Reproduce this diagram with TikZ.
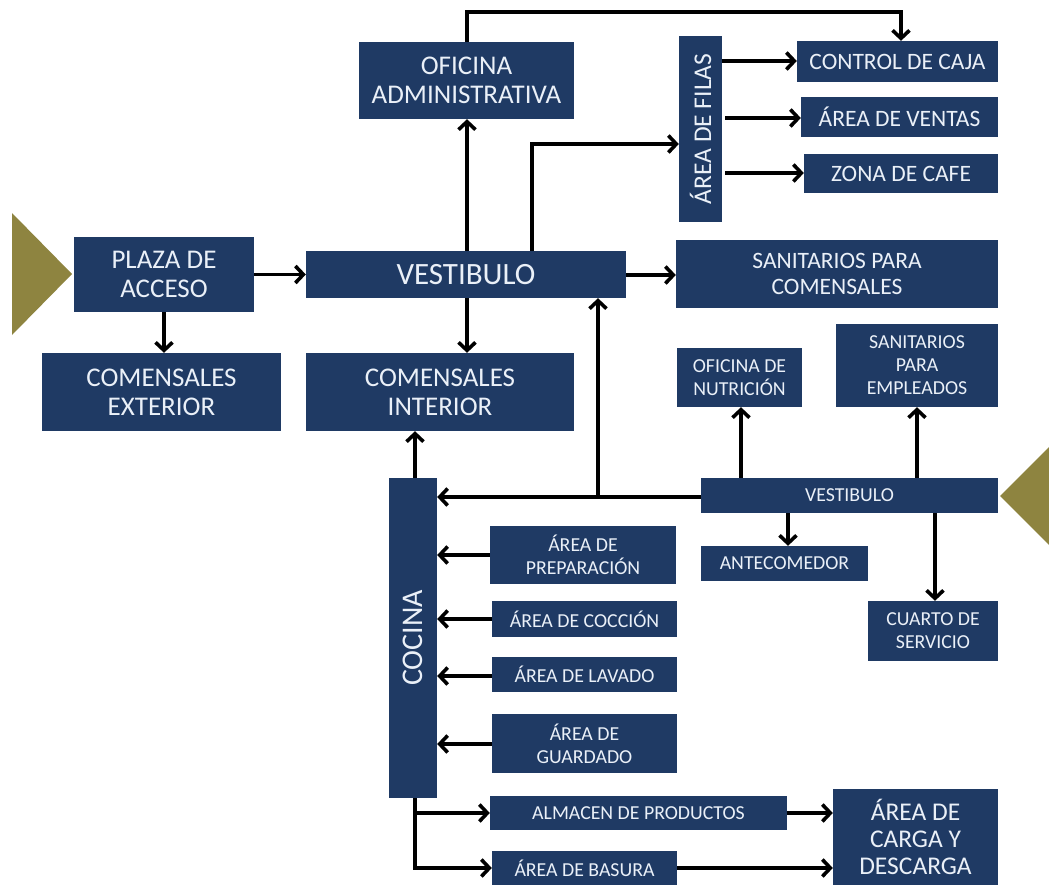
\documentclass[tikz,border=0pt]{standalone}
\usepackage{fontspec}
\setmainfont{Carlito}
\usetikzlibrary{arrows.meta}
\definecolor{navy}{HTML}{1F3A64}
\definecolor{olive}{HTML}{8E8440}
\definecolor{txt}{HTML}{EAF0F8}
\newcommand\bx[7][]{%
  \node[box,#1,minimum width={(#4-#2)*1pt},minimum height={(#5-#3)*1pt}]
    (#6) at ({(#2+#4)/2},{(#3+#5)/2}) {#7};}
\tikzset{
  box/.style={fill=navy,draw=none,text=txt,inner sep=0pt,align=center},
  fbig/.style={font=\fontsize{27}{29}\selectfont},
  fhuge/.style={font=\fontsize{31}{33}\selectfont},
  fmid/.style={font=\fontsize{23.5}{26}\selectfont},
  fsmall/.style={font=\fontsize{19.8}{23}\selectfont},
  vtext/.style={rotate=90,text=txt,inner sep=0pt},
  arr/.style={line width=3.6pt,-{Straight Barb[length=8pt,width=17pt]}},
}
\begin{document}
\begin{tikzpicture}[x=1pt,y=-1pt]
\useasboundingbox (0,0) rectangle (1049,886);
\clip (0,0) rectangle (1049,886);
\fill[white] (0,0) rectangle (1049,886);
% triangles
\fill[olive] (12,213) -- (72,274) -- (12,335) -- cycle;
\fill[olive] (1000,496) -- (1060,436) -- (1060,556) -- cycle;
% boxes
\bx[fbig]{359}{42}{574}{119}{ofi}{OFICINA\\ADMINISTRATIVA}
\bx[fbig]{74}{237}{254}{312}{plaza}{PLAZA DE\\ACCESO}
\bx[fhuge]{306}{251}{626}{298}{vest}{VESTIBULO}
\bx[fbig]{42}{353}{281}{431}{comext}{COMENSALES\\EXTERIOR}
\bx[fbig]{306}{353}{574}{431}{comint}{COMENSALES\\INTERIOR}
\bx{679}{36}{722}{222}{filas}{}
\node[vtext,font=\fontsize{25.5}{27}\selectfont] at (filas.center) {ÁREA DE FILAS};
\bx[fmid]{797}{41}{998}{82}{ctrl}{CONTROL DE CAJA}
\bx[fmid]{801}{97}{998}{137}{ventas}{ÁREA DE VENTAS}
\bx[fmid]{804}{154}{998}{193}{cafe}{ZONA DE CAFE}
\bx[fmid]{676}{240}{998}{308}{sancom}{SANITARIOS PARA\\COMENSALES}
\bx[fsmall]{677}{348}{802}{407}{nutri}{OFICINA DE\\NUTRICIÓN}
\bx[fsmall]{836}{324}{998}{407}{sanemp}{SANITARIOS\\PARA\\EMPLEADOS}
\bx{389}{478}{437}{798}{cocina}{}
\node[vtext,font=\fontsize{30}{32}\selectfont] at (cocina.center) {COCINA};
\bx[fsmall]{701}{478}{998}{513}{vest2}{VESTIBULO}
\bx[fsmall]{701}{546}{868}{581}{ante}{ANTECOMEDOR}
\bx[fsmall]{868}{601}{998}{661}{cuarto}{CUARTO DE\\SERVICIO}
\bx[fsmall]{490}{526}{676}{584}{prep}{ÁREA DE\\PREPARACIÓN}
\bx[fsmall]{492}{601}{677}{637}{coccion}{ÁREA DE COCCIÓN}
\bx[fsmall]{492}{657}{677}{692}{lavado}{ÁREA DE LAVADO}
\bx[fsmall]{492}{714}{677}{773}{guardado}{ÁREA DE\\GUARDADO}
\bx[fsmall]{490}{796}{787}{830}{almacen}{ALMACEN DE PRODUCTOS}
\bx[fsmall]{492}{851}{677}{885}{basura}{ÁREA DE BASURA}
\bx[font=\fontsize{25.5}{27}\selectfont]{833}{789}{998}{885}{carga}{ÁREA DE\\CARGA Y\\DESCARGA}
% connectors
\coordinate (topL) at (467,12);
\draw[arr] (467,0 |- ofi.north) -- (topL) -| (901,0 |- ctrl.north);
\draw[arr] (467,0 |- vest.north) -- (467,0 |- ofi.south);
\draw[arr] (467,0 |- vest.south) -- (467,0 |- comint.north);
\draw[arr] (plaza.east) -- (vest.west);
\draw[arr] (164,0 |- plaza.south) -- (164,0 |- comext.north);
\draw[arr] (532,0 |- vest.north) |- (filas.west |- 0,144);
\draw[arr] (filas.east |- 0,61) -- (ctrl.west |- 0,61);
\draw[arr] (725,118) -- (ventas.west |- 0,118);
\draw[arr] (725,173) -- (cafe.west |- 0,173);
\draw[arr] (vest.east |- 0,275) -- (sancom.west |- 0,275);
\draw[arr] (vest2.west |- 0,497) -- (cocina.east |- 0,497);
\coordinate (jn) at (598,497);
\draw[arr] (jn) -- (598,0 |- vest.south);
\draw[arr] (415,0 |- cocina.north) -- (415,0 |- comint.south);
\draw[arr] (741,0 |- vest2.north) -- (741,0 |- nutri.south);
\draw[arr] (917,0 |- vest2.north) -- (917,0 |- sanemp.south);
\draw[arr] (788,0 |- vest2.south) -- (788,0 |- ante.north);
\draw[arr] (935,0 |- vest2.south) -- (935,0 |- cuarto.north);
\draw[arr] (prep.west |- 0,555) -- (cocina.east |- 0,555);
\draw[arr] (coccion.west |- 0,619) -- (cocina.east |- 0,619);
\draw[arr] (lavado.west |- 0,676) -- (cocina.east |- 0,676);
\draw[arr] (guardado.west |- 0,744) -- (cocina.east |- 0,744);
\draw[arr] (415,0 |- cocina.south) |- (basura.west |- 0,868);
\coordinate (jb) at (415,813);
\draw[arr] (jb) -- (almacen.west |- 0,813);
\draw[arr] (almacen.east |- 0,813) -- (carga.west |- 0,813);
\draw[arr] (basura.east |- 0,868) -- (carga.west |- 0,868);
\end{tikzpicture}
\end{document}
